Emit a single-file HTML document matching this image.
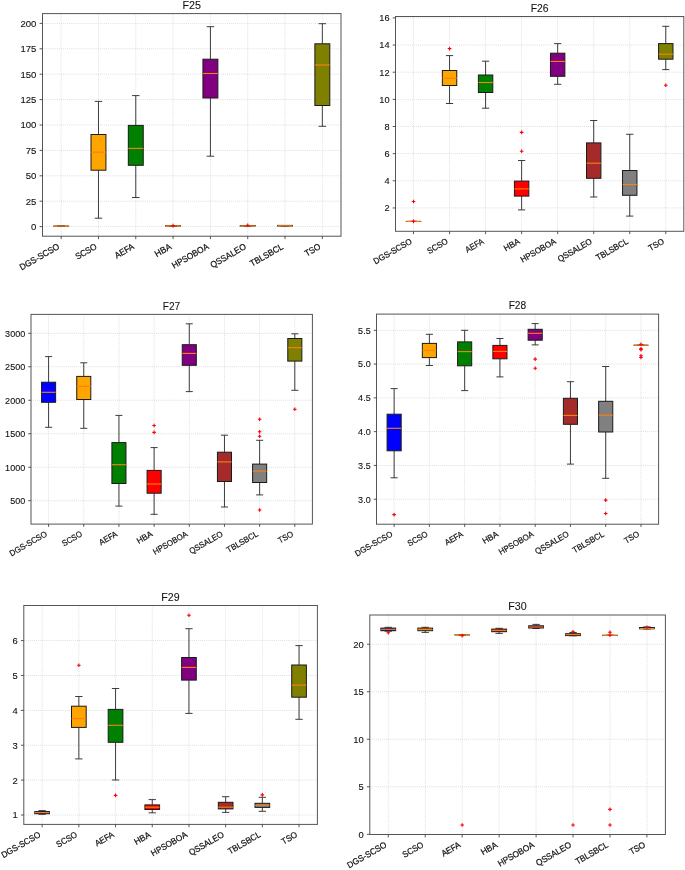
<!DOCTYPE html>
<html><head><meta charset="utf-8"><style>
html,body{margin:0;padding:0;background:#fff;}
svg{display:block;will-change:transform;}
text{font-family:"Liberation Sans",sans-serif;fill:#111;stroke:#111;stroke-width:0.22px;}
.ti{stroke-width:0.08px}
.yl{stroke-width:0.1px}
.gr{stroke:#b0b0b0;stroke-width:0.65;stroke-dasharray:0.9 1.15;opacity:0.7}
.wk{stroke:#333;stroke-width:0.95}
.bx{stroke:#1a1a1a;stroke-width:1}
.md{stroke:#ff7f0e;stroke-width:1.1}
.fl{stroke:#ff0000;stroke-width:1.1;fill:none}
.fr{fill:none;stroke:#555;stroke-width:1}
.tk{stroke:#444;stroke-width:0.9}
</style></head><body>
<svg width="685" height="870" viewBox="0 0 685 870">
<rect width="685" height="870" fill="#fff"/>
<g><line class="gr" x1="61.16" y1="13.6" x2="61.16" y2="236.2"/>
<line class="gr" x1="98.47" y1="13.6" x2="98.47" y2="236.2"/>
<line class="gr" x1="135.78" y1="13.6" x2="135.78" y2="236.2"/>
<line class="gr" x1="173.09" y1="13.6" x2="173.09" y2="236.2"/>
<line class="gr" x1="210.41" y1="13.6" x2="210.41" y2="236.2"/>
<line class="gr" x1="247.72" y1="13.6" x2="247.72" y2="236.2"/>
<line class="gr" x1="285.03" y1="13.6" x2="285.03" y2="236.2"/>
<line class="gr" x1="322.34" y1="13.6" x2="322.34" y2="236.2"/>
<line class="gr" x1="42.5" y1="226.6" x2="341" y2="226.6"/>
<line class="gr" x1="42.5" y1="201.2" x2="341" y2="201.2"/>
<line class="gr" x1="42.5" y1="175.8" x2="341" y2="175.8"/>
<line class="gr" x1="42.5" y1="150.4" x2="341" y2="150.4"/>
<line class="gr" x1="42.5" y1="125" x2="341" y2="125"/>
<line class="gr" x1="42.5" y1="99.6" x2="341" y2="99.6"/>
<line class="gr" x1="42.5" y1="74.2" x2="341" y2="74.2"/>
<line class="gr" x1="42.5" y1="48.8" x2="341" y2="48.8"/>
<line class="gr" x1="42.5" y1="23.4" x2="341" y2="23.4"/>
<line class="wk" x1="61.16" y1="226.1" x2="61.16" y2="226.1"/>
<line class="wk" x1="61.16" y1="226.1" x2="61.16" y2="226.1"/>
<line class="wk" x1="57.42" y1="226.1" x2="64.89" y2="226.1"/>
<line class="wk" x1="57.42" y1="226.1" x2="64.89" y2="226.1"/>
<rect class="bx" x="53.69" y="226.1" width="14.93" height="0.01" fill="#0000ff"/>
<line class="md" x1="53.69" y1="226.1" x2="68.62" y2="226.1"/>
<line class="wk" x1="98.47" y1="170.2" x2="98.47" y2="218.2"/>
<line class="wk" x1="98.47" y1="101.4" x2="98.47" y2="134.5"/>
<line class="wk" x1="94.74" y1="218.2" x2="102.2" y2="218.2"/>
<line class="wk" x1="94.74" y1="101.4" x2="102.2" y2="101.4"/>
<rect class="bx" x="91.01" y="134.5" width="14.93" height="35.7" fill="#ffa500"/>
<line class="md" x1="91.01" y1="152.2" x2="105.93" y2="152.2"/>
<line class="wk" x1="135.78" y1="165.3" x2="135.78" y2="197.5"/>
<line class="wk" x1="135.78" y1="95.6" x2="135.78" y2="125.4"/>
<line class="wk" x1="132.05" y1="197.5" x2="139.51" y2="197.5"/>
<line class="wk" x1="132.05" y1="95.6" x2="139.51" y2="95.6"/>
<rect class="bx" x="128.32" y="125.4" width="14.93" height="39.9" fill="#008000"/>
<line class="md" x1="128.32" y1="148.4" x2="143.24" y2="148.4"/>
<line class="wk" x1="173.09" y1="226" x2="173.09" y2="226"/>
<line class="wk" x1="173.09" y1="225.8" x2="173.09" y2="225.6"/>
<line class="wk" x1="169.36" y1="226" x2="176.82" y2="226"/>
<line class="wk" x1="169.36" y1="225.8" x2="176.82" y2="225.8"/>
<rect class="bx" x="165.63" y="225.6" width="14.93" height="0.4" fill="#ff0000"/>
<line class="md" x1="165.63" y1="225.8" x2="180.56" y2="225.8"/>
<path class="fl" d="M171.29 225.6h3.6M173.09 223.8v3.6"/>
<line class="wk" x1="210.41" y1="98" x2="210.41" y2="156.2"/>
<line class="wk" x1="210.41" y1="26.7" x2="210.41" y2="59.2"/>
<line class="wk" x1="206.68" y1="156.2" x2="214.14" y2="156.2"/>
<line class="wk" x1="206.68" y1="26.7" x2="214.14" y2="26.7"/>
<rect class="bx" x="202.94" y="59.2" width="14.93" height="38.8" fill="#800080"/>
<line class="md" x1="202.94" y1="73.5" x2="217.87" y2="73.5"/>
<line class="wk" x1="247.72" y1="226" x2="247.72" y2="226"/>
<line class="wk" x1="247.72" y1="225.6" x2="247.72" y2="225.5"/>
<line class="wk" x1="243.99" y1="226" x2="251.45" y2="226"/>
<line class="wk" x1="243.99" y1="225.6" x2="251.45" y2="225.6"/>
<rect class="bx" x="240.26" y="225.5" width="14.93" height="0.5" fill="#a52a2a"/>
<line class="md" x1="240.26" y1="225.8" x2="255.18" y2="225.8"/>
<path class="fl" d="M245.92 225.2h3.6M247.72 223.4v3.6"/>
<line class="wk" x1="285.03" y1="226" x2="285.03" y2="226"/>
<line class="wk" x1="285.03" y1="225.5" x2="285.03" y2="225.4"/>
<line class="wk" x1="281.3" y1="226" x2="288.76" y2="226"/>
<line class="wk" x1="281.3" y1="225.5" x2="288.76" y2="225.5"/>
<rect class="bx" x="277.57" y="225.4" width="14.93" height="0.6" fill="#808080"/>
<line class="md" x1="277.57" y1="225.7" x2="292.49" y2="225.7"/>
<line class="wk" x1="322.34" y1="105.5" x2="322.34" y2="126.3"/>
<line class="wk" x1="322.34" y1="23.7" x2="322.34" y2="43.8"/>
<line class="wk" x1="318.61" y1="126.3" x2="326.07" y2="126.3"/>
<line class="wk" x1="318.61" y1="23.7" x2="326.07" y2="23.7"/>
<rect class="bx" x="314.88" y="43.8" width="14.93" height="61.7" fill="#808000"/>
<line class="md" x1="314.88" y1="65" x2="329.81" y2="65"/>
<rect class="fr" x="42.5" y="13.6" width="298.5" height="222.6"/>
<line class="tk" x1="61.16" y1="236.2" x2="61.16" y2="239.12"/>
<line class="tk" x1="98.47" y1="236.2" x2="98.47" y2="239.12"/>
<line class="tk" x1="135.78" y1="236.2" x2="135.78" y2="239.12"/>
<line class="tk" x1="173.09" y1="236.2" x2="173.09" y2="239.12"/>
<line class="tk" x1="210.41" y1="236.2" x2="210.41" y2="239.12"/>
<line class="tk" x1="247.72" y1="236.2" x2="247.72" y2="239.12"/>
<line class="tk" x1="285.03" y1="236.2" x2="285.03" y2="239.12"/>
<line class="tk" x1="322.34" y1="236.2" x2="322.34" y2="239.12"/>
<line class="tk" x1="39.58" y1="226.6" x2="42.5" y2="226.6"/>
<line class="tk" x1="39.58" y1="201.2" x2="42.5" y2="201.2"/>
<line class="tk" x1="39.58" y1="175.8" x2="42.5" y2="175.8"/>
<line class="tk" x1="39.58" y1="150.4" x2="42.5" y2="150.4"/>
<line class="tk" x1="39.58" y1="125" x2="42.5" y2="125"/>
<line class="tk" x1="39.58" y1="99.6" x2="42.5" y2="99.6"/>
<line class="tk" x1="39.58" y1="74.2" x2="42.5" y2="74.2"/>
<line class="tk" x1="39.58" y1="48.8" x2="42.5" y2="48.8"/>
<line class="tk" x1="39.58" y1="23.4" x2="42.5" y2="23.4"/>
<text x="36.35" y="230.08" font-size="8.86" text-anchor="end" textLength="5.32" lengthAdjust="spacingAndGlyphs" class="yl">0</text>
<text x="36.35" y="204.68" font-size="8.86" text-anchor="end" textLength="10.64" lengthAdjust="spacingAndGlyphs" class="yl">25</text>
<text x="36.35" y="179.28" font-size="8.86" text-anchor="end" textLength="10.64" lengthAdjust="spacingAndGlyphs" class="yl">50</text>
<text x="36.35" y="153.88" font-size="8.86" text-anchor="end" textLength="10.64" lengthAdjust="spacingAndGlyphs" class="yl">75</text>
<text x="36.35" y="128.48" font-size="8.86" text-anchor="end" textLength="15.95" lengthAdjust="spacingAndGlyphs" class="yl">100</text>
<text x="36.35" y="103.08" font-size="8.86" text-anchor="end" textLength="15.95" lengthAdjust="spacingAndGlyphs" class="yl">125</text>
<text x="36.35" y="77.68" font-size="8.86" text-anchor="end" textLength="15.95" lengthAdjust="spacingAndGlyphs" class="yl">150</text>
<text x="36.35" y="52.28" font-size="8.86" text-anchor="end" textLength="15.95" lengthAdjust="spacingAndGlyphs" class="yl">175</text>
<text x="36.35" y="26.88" font-size="8.86" text-anchor="end" textLength="15.95" lengthAdjust="spacingAndGlyphs" class="yl">200</text>
<text transform="translate(60.17 248.35) rotate(-30)" font-size="8.86" text-anchor="end" textLength="44.26" lengthAdjust="spacingAndGlyphs">DGS-SCSO</text>
<text transform="translate(97.48 248.35) rotate(-30)" font-size="8.86" text-anchor="end" textLength="23.03" lengthAdjust="spacingAndGlyphs">SCSO</text>
<text transform="translate(134.79 248.35) rotate(-30)" font-size="8.86" text-anchor="end" textLength="20.76" lengthAdjust="spacingAndGlyphs">AEFA</text>
<text transform="translate(172.11 248.35) rotate(-30)" font-size="8.86" text-anchor="end" textLength="17.74" lengthAdjust="spacingAndGlyphs">HBA</text>
<text transform="translate(209.42 248.35) rotate(-30)" font-size="8.86" text-anchor="end" textLength="40.95" lengthAdjust="spacingAndGlyphs">HPSOBOA</text>
<text transform="translate(246.73 248.35) rotate(-30)" font-size="8.86" text-anchor="end" textLength="39.58" lengthAdjust="spacingAndGlyphs">QSSALEO</text>
<text transform="translate(284.04 248.35) rotate(-30)" font-size="8.86" text-anchor="end" textLength="36.88" lengthAdjust="spacingAndGlyphs">TBLSBCL</text>
<text transform="translate(321.36 248.35) rotate(-30)" font-size="8.86" text-anchor="end" textLength="16.99" lengthAdjust="spacingAndGlyphs">TSO</text>
<text x="191.7" y="8.9" font-size="10.63" text-anchor="middle" textLength="18.53" lengthAdjust="spacingAndGlyphs" class="ti">F25</text></g>
<g><line class="gr" x1="413.52" y1="16.5" x2="413.52" y2="231.3"/>
<line class="gr" x1="449.56" y1="16.5" x2="449.56" y2="231.3"/>
<line class="gr" x1="485.59" y1="16.5" x2="485.59" y2="231.3"/>
<line class="gr" x1="521.63" y1="16.5" x2="521.63" y2="231.3"/>
<line class="gr" x1="557.67" y1="16.5" x2="557.67" y2="231.3"/>
<line class="gr" x1="593.71" y1="16.5" x2="593.71" y2="231.3"/>
<line class="gr" x1="629.74" y1="16.5" x2="629.74" y2="231.3"/>
<line class="gr" x1="665.78" y1="16.5" x2="665.78" y2="231.3"/>
<line class="gr" x1="395.5" y1="17.9" x2="683.8" y2="17.9"/>
<line class="gr" x1="395.5" y1="45.05" x2="683.8" y2="45.05"/>
<line class="gr" x1="395.5" y1="72.2" x2="683.8" y2="72.2"/>
<line class="gr" x1="395.5" y1="99.35" x2="683.8" y2="99.35"/>
<line class="gr" x1="395.5" y1="126.5" x2="683.8" y2="126.5"/>
<line class="gr" x1="395.5" y1="153.65" x2="683.8" y2="153.65"/>
<line class="gr" x1="395.5" y1="180.8" x2="683.8" y2="180.8"/>
<line class="gr" x1="395.5" y1="207.95" x2="683.8" y2="207.95"/>
<line class="wk" x1="413.52" y1="221.4" x2="413.52" y2="221.4"/>
<line class="wk" x1="413.52" y1="221.4" x2="413.52" y2="221.4"/>
<line class="wk" x1="409.92" y1="221.4" x2="417.12" y2="221.4"/>
<line class="wk" x1="409.92" y1="221.4" x2="417.12" y2="221.4"/>
<rect class="bx" x="406.31" y="221.4" width="14.41" height="0.01" fill="#0000ff"/>
<line class="md" x1="406.31" y1="221.4" x2="420.73" y2="221.4"/>
<path class="fl" d="M411.72 201.5h3.6M413.52 199.7v3.6"/>
<path class="fl" d="M411.72 221.4h3.6M413.52 219.6v3.6"/>
<line class="wk" x1="449.56" y1="85.5" x2="449.56" y2="103.5"/>
<line class="wk" x1="449.56" y1="55.6" x2="449.56" y2="70.5"/>
<line class="wk" x1="445.95" y1="103.5" x2="453.16" y2="103.5"/>
<line class="wk" x1="445.95" y1="55.6" x2="453.16" y2="55.6"/>
<rect class="bx" x="442.35" y="70.5" width="14.41" height="15" fill="#ffa500"/>
<line class="md" x1="442.35" y1="78.3" x2="456.76" y2="78.3"/>
<path class="fl" d="M447.76 48.6h3.6M449.56 46.8v3.6"/>
<line class="wk" x1="485.59" y1="92.5" x2="485.59" y2="108.2"/>
<line class="wk" x1="485.59" y1="61.2" x2="485.59" y2="75"/>
<line class="wk" x1="481.99" y1="108.2" x2="489.2" y2="108.2"/>
<line class="wk" x1="481.99" y1="61.2" x2="489.2" y2="61.2"/>
<rect class="bx" x="478.39" y="75" width="14.41" height="17.5" fill="#008000"/>
<line class="md" x1="478.39" y1="82.5" x2="492.8" y2="82.5"/>
<line class="wk" x1="521.63" y1="196.1" x2="521.63" y2="209.9"/>
<line class="wk" x1="521.63" y1="160.5" x2="521.63" y2="181.1"/>
<line class="wk" x1="518.03" y1="209.9" x2="525.24" y2="209.9"/>
<line class="wk" x1="518.03" y1="160.5" x2="525.24" y2="160.5"/>
<rect class="bx" x="514.42" y="181.1" width="14.41" height="15" fill="#ff0000"/>
<line class="md" x1="514.42" y1="188.9" x2="528.84" y2="188.9"/>
<path class="fl" d="M519.83 132.4h3.6M521.63 130.6v3.6"/>
<path class="fl" d="M519.83 151.3h3.6M521.63 149.5v3.6"/>
<line class="wk" x1="557.67" y1="76.3" x2="557.67" y2="84.3"/>
<line class="wk" x1="557.67" y1="43.6" x2="557.67" y2="53.2"/>
<line class="wk" x1="554.07" y1="84.3" x2="561.27" y2="84.3"/>
<line class="wk" x1="554.07" y1="43.6" x2="561.27" y2="43.6"/>
<rect class="bx" x="550.46" y="53.2" width="14.41" height="23.1" fill="#800080"/>
<line class="md" x1="550.46" y1="61.4" x2="564.88" y2="61.4"/>
<line class="wk" x1="593.71" y1="178.3" x2="593.71" y2="197"/>
<line class="wk" x1="593.71" y1="120.5" x2="593.71" y2="142.9"/>
<line class="wk" x1="590.1" y1="197" x2="597.31" y2="197"/>
<line class="wk" x1="590.1" y1="120.5" x2="597.31" y2="120.5"/>
<rect class="bx" x="586.5" y="142.9" width="14.41" height="35.4" fill="#a52a2a"/>
<line class="md" x1="586.5" y1="163.2" x2="600.91" y2="163.2"/>
<line class="wk" x1="629.74" y1="195.3" x2="629.74" y2="216.1"/>
<line class="wk" x1="629.74" y1="134.3" x2="629.74" y2="170.5"/>
<line class="wk" x1="626.14" y1="216.1" x2="633.35" y2="216.1"/>
<line class="wk" x1="626.14" y1="134.3" x2="633.35" y2="134.3"/>
<rect class="bx" x="622.54" y="170.5" width="14.41" height="24.8" fill="#808080"/>
<line class="md" x1="622.54" y1="184.5" x2="636.95" y2="184.5"/>
<line class="wk" x1="665.78" y1="59.2" x2="665.78" y2="69.6"/>
<line class="wk" x1="665.78" y1="26.3" x2="665.78" y2="43.6"/>
<line class="wk" x1="662.18" y1="69.6" x2="669.38" y2="69.6"/>
<line class="wk" x1="662.18" y1="26.3" x2="669.38" y2="26.3"/>
<rect class="bx" x="658.57" y="43.6" width="14.41" height="15.6" fill="#808000"/>
<line class="md" x1="658.57" y1="54.2" x2="672.99" y2="54.2"/>
<path class="fl" d="M663.98 85.3h3.6M665.78 83.5v3.6"/>
<rect class="fr" x="395.5" y="16.5" width="288.3" height="214.8"/>
<line class="tk" x1="413.52" y1="231.3" x2="413.52" y2="234.12"/>
<line class="tk" x1="449.56" y1="231.3" x2="449.56" y2="234.12"/>
<line class="tk" x1="485.59" y1="231.3" x2="485.59" y2="234.12"/>
<line class="tk" x1="521.63" y1="231.3" x2="521.63" y2="234.12"/>
<line class="tk" x1="557.67" y1="231.3" x2="557.67" y2="234.12"/>
<line class="tk" x1="593.71" y1="231.3" x2="593.71" y2="234.12"/>
<line class="tk" x1="629.74" y1="231.3" x2="629.74" y2="234.12"/>
<line class="tk" x1="665.78" y1="231.3" x2="665.78" y2="234.12"/>
<line class="tk" x1="392.68" y1="17.9" x2="395.5" y2="17.9"/>
<line class="tk" x1="392.68" y1="45.05" x2="395.5" y2="45.05"/>
<line class="tk" x1="392.68" y1="72.2" x2="395.5" y2="72.2"/>
<line class="tk" x1="392.68" y1="99.35" x2="395.5" y2="99.35"/>
<line class="tk" x1="392.68" y1="126.5" x2="395.5" y2="126.5"/>
<line class="tk" x1="392.68" y1="153.65" x2="395.5" y2="153.65"/>
<line class="tk" x1="392.68" y1="180.8" x2="395.5" y2="180.8"/>
<line class="tk" x1="392.68" y1="207.95" x2="395.5" y2="207.95"/>
<text x="389.55" y="21.27" font-size="8.56" text-anchor="end" textLength="10.27" lengthAdjust="spacingAndGlyphs" class="yl">16</text>
<text x="389.55" y="48.42" font-size="8.56" text-anchor="end" textLength="10.27" lengthAdjust="spacingAndGlyphs" class="yl">14</text>
<text x="389.55" y="75.57" font-size="8.56" text-anchor="end" textLength="10.27" lengthAdjust="spacingAndGlyphs" class="yl">12</text>
<text x="389.55" y="102.72" font-size="8.56" text-anchor="end" textLength="10.27" lengthAdjust="spacingAndGlyphs" class="yl">10</text>
<text x="389.55" y="129.87" font-size="8.56" text-anchor="end" textLength="5.14" lengthAdjust="spacingAndGlyphs" class="yl">8</text>
<text x="389.55" y="157.02" font-size="8.56" text-anchor="end" textLength="5.14" lengthAdjust="spacingAndGlyphs" class="yl">6</text>
<text x="389.55" y="184.17" font-size="8.56" text-anchor="end" textLength="5.14" lengthAdjust="spacingAndGlyphs" class="yl">4</text>
<text x="389.55" y="211.32" font-size="8.56" text-anchor="end" textLength="5.14" lengthAdjust="spacingAndGlyphs" class="yl">2</text>
<text transform="translate(412.57 243.06) rotate(-30)" font-size="8.56" text-anchor="end" textLength="42.75" lengthAdjust="spacingAndGlyphs">DGS-SCSO</text>
<text transform="translate(448.6 243.06) rotate(-30)" font-size="8.56" text-anchor="end" textLength="22.24" lengthAdjust="spacingAndGlyphs">SCSO</text>
<text transform="translate(484.64 243.06) rotate(-30)" font-size="8.56" text-anchor="end" textLength="20.05" lengthAdjust="spacingAndGlyphs">AEFA</text>
<text transform="translate(520.68 243.06) rotate(-30)" font-size="8.56" text-anchor="end" textLength="17.13" lengthAdjust="spacingAndGlyphs">HBA</text>
<text transform="translate(556.72 243.06) rotate(-30)" font-size="8.56" text-anchor="end" textLength="39.55" lengthAdjust="spacingAndGlyphs">HPSOBOA</text>
<text transform="translate(592.75 243.06) rotate(-30)" font-size="8.56" text-anchor="end" textLength="38.23" lengthAdjust="spacingAndGlyphs">QSSALEO</text>
<text transform="translate(628.79 243.06) rotate(-30)" font-size="8.56" text-anchor="end" textLength="35.62" lengthAdjust="spacingAndGlyphs">TBLSBCL</text>
<text transform="translate(664.83 243.06) rotate(-30)" font-size="8.56" text-anchor="end" textLength="16.41" lengthAdjust="spacingAndGlyphs">TSO</text>
<text x="539.6" y="11.6" font-size="10.27" text-anchor="middle" textLength="17.9" lengthAdjust="spacingAndGlyphs" class="ti">F26</text></g>
<g><line class="gr" x1="48.59" y1="314.4" x2="48.59" y2="524.1"/>
<line class="gr" x1="83.76" y1="314.4" x2="83.76" y2="524.1"/>
<line class="gr" x1="118.94" y1="314.4" x2="118.94" y2="524.1"/>
<line class="gr" x1="154.11" y1="314.4" x2="154.11" y2="524.1"/>
<line class="gr" x1="189.29" y1="314.4" x2="189.29" y2="524.1"/>
<line class="gr" x1="224.46" y1="314.4" x2="224.46" y2="524.1"/>
<line class="gr" x1="259.64" y1="314.4" x2="259.64" y2="524.1"/>
<line class="gr" x1="294.81" y1="314.4" x2="294.81" y2="524.1"/>
<line class="gr" x1="31" y1="500.7" x2="312.4" y2="500.7"/>
<line class="gr" x1="31" y1="467.22" x2="312.4" y2="467.22"/>
<line class="gr" x1="31" y1="433.74" x2="312.4" y2="433.74"/>
<line class="gr" x1="31" y1="400.26" x2="312.4" y2="400.26"/>
<line class="gr" x1="31" y1="366.78" x2="312.4" y2="366.78"/>
<line class="gr" x1="31" y1="333.3" x2="312.4" y2="333.3"/>
<line class="wk" x1="48.59" y1="402.3" x2="48.59" y2="427.3"/>
<line class="wk" x1="48.59" y1="356.6" x2="48.59" y2="382.2"/>
<line class="wk" x1="45.07" y1="427.3" x2="52.1" y2="427.3"/>
<line class="wk" x1="45.07" y1="356.6" x2="52.1" y2="356.6"/>
<rect class="bx" x="41.55" y="382.2" width="14.07" height="20.1" fill="#0000ff"/>
<line class="md" x1="41.55" y1="392.3" x2="55.62" y2="392.3"/>
<line class="wk" x1="83.76" y1="399.5" x2="83.76" y2="428.3"/>
<line class="wk" x1="83.76" y1="362.8" x2="83.76" y2="376.4"/>
<line class="wk" x1="80.24" y1="428.3" x2="87.28" y2="428.3"/>
<line class="wk" x1="80.24" y1="362.8" x2="87.28" y2="362.8"/>
<rect class="bx" x="76.73" y="376.4" width="14.07" height="23.1" fill="#ffa500"/>
<line class="md" x1="76.73" y1="386.4" x2="90.8" y2="386.4"/>
<line class="wk" x1="118.94" y1="483.5" x2="118.94" y2="506.1"/>
<line class="wk" x1="118.94" y1="415.4" x2="118.94" y2="442.6"/>
<line class="wk" x1="115.42" y1="506.1" x2="122.45" y2="506.1"/>
<line class="wk" x1="115.42" y1="415.4" x2="122.45" y2="415.4"/>
<rect class="bx" x="111.9" y="442.6" width="14.07" height="40.9" fill="#008000"/>
<line class="md" x1="111.9" y1="464.7" x2="125.97" y2="464.7"/>
<line class="wk" x1="154.11" y1="493.2" x2="154.11" y2="514.3"/>
<line class="wk" x1="154.11" y1="447.6" x2="154.11" y2="470.4"/>
<line class="wk" x1="150.59" y1="514.3" x2="157.63" y2="514.3"/>
<line class="wk" x1="150.59" y1="447.6" x2="157.63" y2="447.6"/>
<rect class="bx" x="147.08" y="470.4" width="14.07" height="22.8" fill="#ff0000"/>
<line class="md" x1="147.08" y1="484" x2="161.15" y2="484"/>
<path class="fl" d="M152.31 425.5h3.6M154.11 423.7v3.6"/>
<path class="fl" d="M152.31 432.4h3.6M154.11 430.6v3.6"/>
<line class="wk" x1="189.29" y1="365.3" x2="189.29" y2="391.6"/>
<line class="wk" x1="189.29" y1="323.8" x2="189.29" y2="344.7"/>
<line class="wk" x1="185.77" y1="391.6" x2="192.81" y2="391.6"/>
<line class="wk" x1="185.77" y1="323.8" x2="192.81" y2="323.8"/>
<rect class="bx" x="182.25" y="344.7" width="14.07" height="20.6" fill="#800080"/>
<line class="md" x1="182.25" y1="353.4" x2="196.32" y2="353.4"/>
<line class="wk" x1="224.46" y1="481.5" x2="224.46" y2="507"/>
<line class="wk" x1="224.46" y1="435.2" x2="224.46" y2="452.2"/>
<line class="wk" x1="220.94" y1="507" x2="227.98" y2="507"/>
<line class="wk" x1="220.94" y1="435.2" x2="227.98" y2="435.2"/>
<rect class="bx" x="217.43" y="452.2" width="14.07" height="29.3" fill="#a52a2a"/>
<line class="md" x1="217.43" y1="461.9" x2="231.5" y2="461.9"/>
<line class="wk" x1="259.64" y1="482.5" x2="259.64" y2="494.9"/>
<line class="wk" x1="259.64" y1="440.3" x2="259.64" y2="464.1"/>
<line class="wk" x1="256.12" y1="494.9" x2="263.15" y2="494.9"/>
<line class="wk" x1="256.12" y1="440.3" x2="263.15" y2="440.3"/>
<rect class="bx" x="252.6" y="464.1" width="14.07" height="18.4" fill="#808080"/>
<line class="md" x1="252.6" y1="471.1" x2="266.67" y2="471.1"/>
<path class="fl" d="M257.84 419.2h3.6M259.64 417.4v3.6"/>
<path class="fl" d="M257.84 431.8h3.6M259.64 430v3.6"/>
<path class="fl" d="M257.84 436.3h3.6M259.64 434.5v3.6"/>
<path class="fl" d="M257.84 510h3.6M259.64 508.2v3.6"/>
<line class="wk" x1="294.81" y1="361.1" x2="294.81" y2="390.3"/>
<line class="wk" x1="294.81" y1="333.8" x2="294.81" y2="338.5"/>
<line class="wk" x1="291.3" y1="390.3" x2="298.33" y2="390.3"/>
<line class="wk" x1="291.3" y1="333.8" x2="298.33" y2="333.8"/>
<rect class="bx" x="287.78" y="338.5" width="14.07" height="22.6" fill="#808000"/>
<line class="md" x1="287.78" y1="347.7" x2="301.85" y2="347.7"/>
<path class="fl" d="M293.01 409.2h3.6M294.81 407.4v3.6"/>
<rect class="fr" x="31" y="314.4" width="281.4" height="209.7"/>
<line class="tk" x1="48.59" y1="524.1" x2="48.59" y2="526.86"/>
<line class="tk" x1="83.76" y1="524.1" x2="83.76" y2="526.86"/>
<line class="tk" x1="118.94" y1="524.1" x2="118.94" y2="526.86"/>
<line class="tk" x1="154.11" y1="524.1" x2="154.11" y2="526.86"/>
<line class="tk" x1="189.29" y1="524.1" x2="189.29" y2="526.86"/>
<line class="tk" x1="224.46" y1="524.1" x2="224.46" y2="526.86"/>
<line class="tk" x1="259.64" y1="524.1" x2="259.64" y2="526.86"/>
<line class="tk" x1="294.81" y1="524.1" x2="294.81" y2="526.86"/>
<line class="tk" x1="28.24" y1="500.7" x2="31" y2="500.7"/>
<line class="tk" x1="28.24" y1="467.22" x2="31" y2="467.22"/>
<line class="tk" x1="28.24" y1="433.74" x2="31" y2="433.74"/>
<line class="tk" x1="28.24" y1="400.26" x2="31" y2="400.26"/>
<line class="tk" x1="28.24" y1="366.78" x2="31" y2="366.78"/>
<line class="tk" x1="28.24" y1="333.3" x2="31" y2="333.3"/>
<text x="25.19" y="503.99" font-size="8.35" text-anchor="end" textLength="15.04" lengthAdjust="spacingAndGlyphs" class="yl">500</text>
<text x="25.19" y="470.51" font-size="8.35" text-anchor="end" textLength="20.05" lengthAdjust="spacingAndGlyphs" class="yl">1000</text>
<text x="25.19" y="437.03" font-size="8.35" text-anchor="end" textLength="20.05" lengthAdjust="spacingAndGlyphs" class="yl">1500</text>
<text x="25.19" y="403.55" font-size="8.35" text-anchor="end" textLength="20.05" lengthAdjust="spacingAndGlyphs" class="yl">2000</text>
<text x="25.19" y="370.07" font-size="8.35" text-anchor="end" textLength="20.05" lengthAdjust="spacingAndGlyphs" class="yl">2500</text>
<text x="25.19" y="336.59" font-size="8.35" text-anchor="end" textLength="20.05" lengthAdjust="spacingAndGlyphs" class="yl">3000</text>
<text transform="translate(47.66 535.6) rotate(-30)" font-size="8.35" text-anchor="end" textLength="41.73" lengthAdjust="spacingAndGlyphs">DGS-SCSO</text>
<text transform="translate(82.83 535.6) rotate(-30)" font-size="8.35" text-anchor="end" textLength="21.71" lengthAdjust="spacingAndGlyphs">SCSO</text>
<text transform="translate(118.01 535.6) rotate(-30)" font-size="8.35" text-anchor="end" textLength="19.57" lengthAdjust="spacingAndGlyphs">AEFA</text>
<text transform="translate(153.18 535.6) rotate(-30)" font-size="8.35" text-anchor="end" textLength="16.72" lengthAdjust="spacingAndGlyphs">HBA</text>
<text transform="translate(188.36 535.6) rotate(-30)" font-size="8.35" text-anchor="end" textLength="38.6" lengthAdjust="spacingAndGlyphs">HPSOBOA</text>
<text transform="translate(223.53 535.6) rotate(-30)" font-size="8.35" text-anchor="end" textLength="37.31" lengthAdjust="spacingAndGlyphs">QSSALEO</text>
<text transform="translate(258.71 535.6) rotate(-30)" font-size="8.35" text-anchor="end" textLength="34.77" lengthAdjust="spacingAndGlyphs">TBLSBCL</text>
<text transform="translate(293.88 535.6) rotate(-30)" font-size="8.35" text-anchor="end" textLength="16.02" lengthAdjust="spacingAndGlyphs">TSO</text>
<text x="171.5" y="309.9" font-size="10.02" text-anchor="middle" textLength="17.47" lengthAdjust="spacingAndGlyphs" class="ti">F27</text></g>
<g><line class="gr" x1="394.13" y1="314.1" x2="394.13" y2="524.2"/>
<line class="gr" x1="429.39" y1="314.1" x2="429.39" y2="524.2"/>
<line class="gr" x1="464.66" y1="314.1" x2="464.66" y2="524.2"/>
<line class="gr" x1="499.92" y1="314.1" x2="499.92" y2="524.2"/>
<line class="gr" x1="535.18" y1="314.1" x2="535.18" y2="524.2"/>
<line class="gr" x1="570.44" y1="314.1" x2="570.44" y2="524.2"/>
<line class="gr" x1="605.71" y1="314.1" x2="605.71" y2="524.2"/>
<line class="gr" x1="640.97" y1="314.1" x2="640.97" y2="524.2"/>
<line class="gr" x1="376.5" y1="330.3" x2="658.6" y2="330.3"/>
<line class="gr" x1="376.5" y1="364.08" x2="658.6" y2="364.08"/>
<line class="gr" x1="376.5" y1="397.86" x2="658.6" y2="397.86"/>
<line class="gr" x1="376.5" y1="431.64" x2="658.6" y2="431.64"/>
<line class="gr" x1="376.5" y1="465.42" x2="658.6" y2="465.42"/>
<line class="gr" x1="376.5" y1="499.2" x2="658.6" y2="499.2"/>
<line class="wk" x1="394.13" y1="450.8" x2="394.13" y2="477.8"/>
<line class="wk" x1="394.13" y1="388.6" x2="394.13" y2="414.2"/>
<line class="wk" x1="390.61" y1="477.8" x2="397.66" y2="477.8"/>
<line class="wk" x1="390.61" y1="388.6" x2="397.66" y2="388.6"/>
<rect class="bx" x="387.08" y="414.2" width="14.11" height="36.6" fill="#0000ff"/>
<line class="md" x1="387.08" y1="428.3" x2="401.18" y2="428.3"/>
<path class="fl" d="M392.33 514.6h3.6M394.13 512.8v3.6"/>
<line class="wk" x1="429.39" y1="357.6" x2="429.39" y2="365.5"/>
<line class="wk" x1="429.39" y1="334.3" x2="429.39" y2="343.4"/>
<line class="wk" x1="425.87" y1="365.5" x2="432.92" y2="365.5"/>
<line class="wk" x1="425.87" y1="334.3" x2="432.92" y2="334.3"/>
<rect class="bx" x="422.34" y="343.4" width="14.11" height="14.2" fill="#ffa500"/>
<line class="md" x1="422.34" y1="350.4" x2="436.45" y2="350.4"/>
<line class="wk" x1="464.66" y1="365.8" x2="464.66" y2="390.6"/>
<line class="wk" x1="464.66" y1="330.3" x2="464.66" y2="341.9"/>
<line class="wk" x1="461.13" y1="390.6" x2="468.18" y2="390.6"/>
<line class="wk" x1="461.13" y1="330.3" x2="468.18" y2="330.3"/>
<rect class="bx" x="457.6" y="341.9" width="14.11" height="23.9" fill="#008000"/>
<line class="md" x1="457.6" y1="351.6" x2="471.71" y2="351.6"/>
<line class="wk" x1="499.92" y1="358.8" x2="499.92" y2="376.9"/>
<line class="wk" x1="499.92" y1="338.5" x2="499.92" y2="345.4"/>
<line class="wk" x1="496.39" y1="376.9" x2="503.45" y2="376.9"/>
<line class="wk" x1="496.39" y1="338.5" x2="503.45" y2="338.5"/>
<rect class="bx" x="492.87" y="345.4" width="14.11" height="13.4" fill="#ff0000"/>
<line class="md" x1="492.87" y1="351.4" x2="506.97" y2="351.4"/>
<line class="wk" x1="535.18" y1="340.2" x2="535.18" y2="344.9"/>
<line class="wk" x1="535.18" y1="323.6" x2="535.18" y2="329.3"/>
<line class="wk" x1="531.65" y1="344.9" x2="538.71" y2="344.9"/>
<line class="wk" x1="531.65" y1="323.6" x2="538.71" y2="323.6"/>
<rect class="bx" x="528.13" y="329.3" width="14.11" height="10.9" fill="#800080"/>
<line class="md" x1="528.13" y1="333.3" x2="542.23" y2="333.3"/>
<path class="fl" d="M533.38 359.1h3.6M535.18 357.3v3.6"/>
<path class="fl" d="M533.38 368.3h3.6M535.18 366.5v3.6"/>
<line class="wk" x1="570.44" y1="424.3" x2="570.44" y2="464.1"/>
<line class="wk" x1="570.44" y1="381.7" x2="570.44" y2="398.3"/>
<line class="wk" x1="566.92" y1="464.1" x2="573.97" y2="464.1"/>
<line class="wk" x1="566.92" y1="381.7" x2="573.97" y2="381.7"/>
<rect class="bx" x="563.39" y="398.3" width="14.11" height="26" fill="#a52a2a"/>
<line class="md" x1="563.39" y1="415.4" x2="577.5" y2="415.4"/>
<line class="wk" x1="605.71" y1="432" x2="605.71" y2="478.3"/>
<line class="wk" x1="605.71" y1="366.5" x2="605.71" y2="401.3"/>
<line class="wk" x1="602.18" y1="478.3" x2="609.23" y2="478.3"/>
<line class="wk" x1="602.18" y1="366.5" x2="609.23" y2="366.5"/>
<rect class="bx" x="598.65" y="401.3" width="14.11" height="30.7" fill="#808080"/>
<line class="md" x1="598.65" y1="415.2" x2="612.76" y2="415.2"/>
<path class="fl" d="M603.91 500.1h3.6M605.71 498.3v3.6"/>
<path class="fl" d="M603.91 513.5h3.6M605.71 511.7v3.6"/>
<line class="wk" x1="640.97" y1="345.2" x2="640.97" y2="345.2"/>
<line class="wk" x1="640.97" y1="345.2" x2="640.97" y2="345.2"/>
<line class="wk" x1="637.44" y1="345.2" x2="644.5" y2="345.2"/>
<line class="wk" x1="637.44" y1="345.2" x2="644.5" y2="345.2"/>
<rect class="bx" x="633.92" y="345.2" width="14.11" height="0.01" fill="#808000"/>
<line class="md" x1="633.92" y1="345.2" x2="648.02" y2="345.2"/>
<path class="fl" d="M639.17 344.3h3.6M640.97 342.5v3.6"/>
<path class="fl" d="M639.17 348.7h3.6M640.97 346.9v3.6"/>
<path class="fl" d="M639.17 349.6h3.6M640.97 347.8v3.6"/>
<path class="fl" d="M639.17 355.7h3.6M640.97 353.9v3.6"/>
<path class="fl" d="M639.17 357.5h3.6M640.97 355.7v3.6"/>
<rect class="fr" x="376.5" y="314.1" width="282.1" height="210.1"/>
<line class="tk" x1="394.13" y1="524.2" x2="394.13" y2="526.96"/>
<line class="tk" x1="429.39" y1="524.2" x2="429.39" y2="526.96"/>
<line class="tk" x1="464.66" y1="524.2" x2="464.66" y2="526.96"/>
<line class="tk" x1="499.92" y1="524.2" x2="499.92" y2="526.96"/>
<line class="tk" x1="535.18" y1="524.2" x2="535.18" y2="526.96"/>
<line class="tk" x1="570.44" y1="524.2" x2="570.44" y2="526.96"/>
<line class="tk" x1="605.71" y1="524.2" x2="605.71" y2="526.96"/>
<line class="tk" x1="640.97" y1="524.2" x2="640.97" y2="526.96"/>
<line class="tk" x1="373.74" y1="330.3" x2="376.5" y2="330.3"/>
<line class="tk" x1="373.74" y1="364.08" x2="376.5" y2="364.08"/>
<line class="tk" x1="373.74" y1="397.86" x2="376.5" y2="397.86"/>
<line class="tk" x1="373.74" y1="431.64" x2="376.5" y2="431.64"/>
<line class="tk" x1="373.74" y1="465.42" x2="376.5" y2="465.42"/>
<line class="tk" x1="373.74" y1="499.2" x2="376.5" y2="499.2"/>
<text x="370.67" y="333.6" font-size="8.37" text-anchor="end" textLength="12.56" lengthAdjust="spacingAndGlyphs" class="yl">5.5</text>
<text x="370.67" y="367.38" font-size="8.37" text-anchor="end" textLength="12.56" lengthAdjust="spacingAndGlyphs" class="yl">5.0</text>
<text x="370.67" y="401.16" font-size="8.37" text-anchor="end" textLength="12.56" lengthAdjust="spacingAndGlyphs" class="yl">4.5</text>
<text x="370.67" y="434.94" font-size="8.37" text-anchor="end" textLength="12.56" lengthAdjust="spacingAndGlyphs" class="yl">4.0</text>
<text x="370.67" y="468.72" font-size="8.37" text-anchor="end" textLength="12.56" lengthAdjust="spacingAndGlyphs" class="yl">3.5</text>
<text x="370.67" y="502.5" font-size="8.37" text-anchor="end" textLength="12.56" lengthAdjust="spacingAndGlyphs" class="yl">3.0</text>
<text transform="translate(393.2 535.73) rotate(-30)" font-size="8.37" text-anchor="end" textLength="41.83" lengthAdjust="spacingAndGlyphs">DGS-SCSO</text>
<text transform="translate(428.46 535.73) rotate(-30)" font-size="8.37" text-anchor="end" textLength="21.76" lengthAdjust="spacingAndGlyphs">SCSO</text>
<text transform="translate(463.72 535.73) rotate(-30)" font-size="8.37" text-anchor="end" textLength="19.62" lengthAdjust="spacingAndGlyphs">AEFA</text>
<text transform="translate(498.99 535.73) rotate(-30)" font-size="8.37" text-anchor="end" textLength="16.76" lengthAdjust="spacingAndGlyphs">HBA</text>
<text transform="translate(534.25 535.73) rotate(-30)" font-size="8.37" text-anchor="end" textLength="38.7" lengthAdjust="spacingAndGlyphs">HPSOBOA</text>
<text transform="translate(569.51 535.73) rotate(-30)" font-size="8.37" text-anchor="end" textLength="37.41" lengthAdjust="spacingAndGlyphs">QSSALEO</text>
<text transform="translate(604.77 535.73) rotate(-30)" font-size="8.37" text-anchor="end" textLength="34.86" lengthAdjust="spacingAndGlyphs">TBLSBCL</text>
<text transform="translate(640.04 535.73) rotate(-30)" font-size="8.37" text-anchor="end" textLength="16.06" lengthAdjust="spacingAndGlyphs">TSO</text>
<text x="517.4" y="309.4" font-size="10.05" text-anchor="middle" textLength="17.51" lengthAdjust="spacingAndGlyphs" class="ti">F28</text></g>
<g><line class="gr" x1="42.15" y1="605.5" x2="42.15" y2="824.4"/>
<line class="gr" x1="78.85" y1="605.5" x2="78.85" y2="824.4"/>
<line class="gr" x1="115.55" y1="605.5" x2="115.55" y2="824.4"/>
<line class="gr" x1="152.25" y1="605.5" x2="152.25" y2="824.4"/>
<line class="gr" x1="188.95" y1="605.5" x2="188.95" y2="824.4"/>
<line class="gr" x1="225.65" y1="605.5" x2="225.65" y2="824.4"/>
<line class="gr" x1="262.35" y1="605.5" x2="262.35" y2="824.4"/>
<line class="gr" x1="299.05" y1="605.5" x2="299.05" y2="824.4"/>
<line class="gr" x1="23.8" y1="815" x2="317.4" y2="815"/>
<line class="gr" x1="23.8" y1="780.12" x2="317.4" y2="780.12"/>
<line class="gr" x1="23.8" y1="745.24" x2="317.4" y2="745.24"/>
<line class="gr" x1="23.8" y1="710.36" x2="317.4" y2="710.36"/>
<line class="gr" x1="23.8" y1="675.48" x2="317.4" y2="675.48"/>
<line class="gr" x1="23.8" y1="640.6" x2="317.4" y2="640.6"/>
<line class="wk" x1="42.15" y1="813.7" x2="42.15" y2="814.3"/>
<line class="wk" x1="42.15" y1="810.6" x2="42.15" y2="811.6"/>
<line class="wk" x1="38.48" y1="814.3" x2="45.82" y2="814.3"/>
<line class="wk" x1="38.48" y1="810.6" x2="45.82" y2="810.6"/>
<rect class="bx" x="34.81" y="811.6" width="14.68" height="2.1" fill="#0000ff"/>
<line class="md" x1="34.81" y1="812.6" x2="49.49" y2="812.6"/>
<line class="wk" x1="78.85" y1="727.4" x2="78.85" y2="758.9"/>
<line class="wk" x1="78.85" y1="696.5" x2="78.85" y2="706.2"/>
<line class="wk" x1="75.18" y1="758.9" x2="82.52" y2="758.9"/>
<line class="wk" x1="75.18" y1="696.5" x2="82.52" y2="696.5"/>
<rect class="bx" x="71.51" y="706.2" width="14.68" height="21.2" fill="#ffa500"/>
<line class="md" x1="71.51" y1="718.6" x2="86.19" y2="718.6"/>
<path class="fl" d="M77.05 665.2h3.6M78.85 663.4v3.6"/>
<line class="wk" x1="115.55" y1="742.3" x2="115.55" y2="780"/>
<line class="wk" x1="115.55" y1="688.5" x2="115.55" y2="709.4"/>
<line class="wk" x1="111.88" y1="780" x2="119.22" y2="780"/>
<line class="wk" x1="111.88" y1="688.5" x2="119.22" y2="688.5"/>
<rect class="bx" x="108.21" y="709.4" width="14.68" height="32.9" fill="#008000"/>
<line class="md" x1="108.21" y1="725.3" x2="122.89" y2="725.3"/>
<path class="fl" d="M113.75 795.4h3.6M115.55 793.6v3.6"/>
<line class="wk" x1="152.25" y1="809.5" x2="152.25" y2="812.8"/>
<line class="wk" x1="152.25" y1="799.6" x2="152.25" y2="804.9"/>
<line class="wk" x1="148.58" y1="812.8" x2="155.92" y2="812.8"/>
<line class="wk" x1="148.58" y1="799.6" x2="155.92" y2="799.6"/>
<rect class="bx" x="144.91" y="804.9" width="14.68" height="4.6" fill="#ff0000"/>
<line class="md" x1="144.91" y1="807.2" x2="159.59" y2="807.2"/>
<line class="wk" x1="188.95" y1="680.1" x2="188.95" y2="713.4"/>
<line class="wk" x1="188.95" y1="628.7" x2="188.95" y2="657.5"/>
<line class="wk" x1="185.28" y1="713.4" x2="192.62" y2="713.4"/>
<line class="wk" x1="185.28" y1="628.7" x2="192.62" y2="628.7"/>
<rect class="bx" x="181.61" y="657.5" width="14.68" height="22.6" fill="#800080"/>
<line class="md" x1="181.61" y1="667.4" x2="196.29" y2="667.4"/>
<path class="fl" d="M187.15 615.3h3.6M188.95 613.5v3.6"/>
<line class="wk" x1="225.65" y1="808.9" x2="225.65" y2="812.4"/>
<line class="wk" x1="225.65" y1="796.7" x2="225.65" y2="802.3"/>
<line class="wk" x1="221.98" y1="812.4" x2="229.32" y2="812.4"/>
<line class="wk" x1="221.98" y1="796.7" x2="229.32" y2="796.7"/>
<rect class="bx" x="218.31" y="802.3" width="14.68" height="6.6" fill="#a52a2a"/>
<line class="md" x1="218.31" y1="807.2" x2="232.99" y2="807.2"/>
<line class="wk" x1="262.35" y1="807.4" x2="262.35" y2="811.3"/>
<line class="wk" x1="262.35" y1="797.3" x2="262.35" y2="803.3"/>
<line class="wk" x1="258.68" y1="811.3" x2="266.02" y2="811.3"/>
<line class="wk" x1="258.68" y1="797.3" x2="266.02" y2="797.3"/>
<rect class="bx" x="255.01" y="803.3" width="14.68" height="4.1" fill="#808080"/>
<line class="md" x1="255.01" y1="805.2" x2="269.69" y2="805.2"/>
<path class="fl" d="M260.55 794.9h3.6M262.35 793.1v3.6"/>
<line class="wk" x1="299.05" y1="697.2" x2="299.05" y2="719.3"/>
<line class="wk" x1="299.05" y1="645.6" x2="299.05" y2="665"/>
<line class="wk" x1="295.38" y1="719.3" x2="302.72" y2="719.3"/>
<line class="wk" x1="295.38" y1="645.6" x2="302.72" y2="645.6"/>
<rect class="bx" x="291.71" y="665" width="14.68" height="32.2" fill="#808000"/>
<line class="md" x1="291.71" y1="685.1" x2="306.39" y2="685.1"/>
<rect class="fr" x="23.8" y="605.5" width="293.6" height="218.9"/>
<line class="tk" x1="42.15" y1="824.4" x2="42.15" y2="827.28"/>
<line class="tk" x1="78.85" y1="824.4" x2="78.85" y2="827.28"/>
<line class="tk" x1="115.55" y1="824.4" x2="115.55" y2="827.28"/>
<line class="tk" x1="152.25" y1="824.4" x2="152.25" y2="827.28"/>
<line class="tk" x1="188.95" y1="824.4" x2="188.95" y2="827.28"/>
<line class="tk" x1="225.65" y1="824.4" x2="225.65" y2="827.28"/>
<line class="tk" x1="262.35" y1="824.4" x2="262.35" y2="827.28"/>
<line class="tk" x1="299.05" y1="824.4" x2="299.05" y2="827.28"/>
<line class="tk" x1="20.92" y1="815" x2="23.8" y2="815"/>
<line class="tk" x1="20.92" y1="780.12" x2="23.8" y2="780.12"/>
<line class="tk" x1="20.92" y1="745.24" x2="23.8" y2="745.24"/>
<line class="tk" x1="20.92" y1="710.36" x2="23.8" y2="710.36"/>
<line class="tk" x1="20.92" y1="675.48" x2="23.8" y2="675.48"/>
<line class="tk" x1="20.92" y1="640.6" x2="23.8" y2="640.6"/>
<text x="17.75" y="818.42" font-size="8.71" text-anchor="end" textLength="5.23" lengthAdjust="spacingAndGlyphs" class="yl">1</text>
<text x="17.75" y="783.54" font-size="8.71" text-anchor="end" textLength="5.23" lengthAdjust="spacingAndGlyphs" class="yl">2</text>
<text x="17.75" y="748.66" font-size="8.71" text-anchor="end" textLength="5.23" lengthAdjust="spacingAndGlyphs" class="yl">3</text>
<text x="17.75" y="713.78" font-size="8.71" text-anchor="end" textLength="5.23" lengthAdjust="spacingAndGlyphs" class="yl">4</text>
<text x="17.75" y="678.9" font-size="8.71" text-anchor="end" textLength="5.23" lengthAdjust="spacingAndGlyphs" class="yl">5</text>
<text x="17.75" y="644.02" font-size="8.71" text-anchor="end" textLength="5.23" lengthAdjust="spacingAndGlyphs" class="yl">6</text>
<text transform="translate(41.18 836.36) rotate(-30)" font-size="8.71" text-anchor="end" textLength="43.54" lengthAdjust="spacingAndGlyphs">DGS-SCSO</text>
<text transform="translate(77.88 836.36) rotate(-30)" font-size="8.71" text-anchor="end" textLength="22.65" lengthAdjust="spacingAndGlyphs">SCSO</text>
<text transform="translate(114.58 836.36) rotate(-30)" font-size="8.71" text-anchor="end" textLength="20.42" lengthAdjust="spacingAndGlyphs">AEFA</text>
<text transform="translate(151.28 836.36) rotate(-30)" font-size="8.71" text-anchor="end" textLength="17.45" lengthAdjust="spacingAndGlyphs">HBA</text>
<text transform="translate(187.98 836.36) rotate(-30)" font-size="8.71" text-anchor="end" textLength="40.28" lengthAdjust="spacingAndGlyphs">HPSOBOA</text>
<text transform="translate(224.68 836.36) rotate(-30)" font-size="8.71" text-anchor="end" textLength="38.93" lengthAdjust="spacingAndGlyphs">QSSALEO</text>
<text transform="translate(261.38 836.36) rotate(-30)" font-size="8.71" text-anchor="end" textLength="36.28" lengthAdjust="spacingAndGlyphs">TBLSBCL</text>
<text transform="translate(298.08 836.36) rotate(-30)" font-size="8.71" text-anchor="end" textLength="16.71" lengthAdjust="spacingAndGlyphs">TSO</text>
<text x="170.5" y="600.9" font-size="10.46" text-anchor="middle" textLength="18.23" lengthAdjust="spacingAndGlyphs" class="ti">F29</text></g>
<g><line class="gr" x1="388.28" y1="615" x2="388.28" y2="834.5"/>
<line class="gr" x1="425.23" y1="615" x2="425.23" y2="834.5"/>
<line class="gr" x1="462.18" y1="615" x2="462.18" y2="834.5"/>
<line class="gr" x1="499.12" y1="615" x2="499.12" y2="834.5"/>
<line class="gr" x1="536.08" y1="615" x2="536.08" y2="834.5"/>
<line class="gr" x1="573.02" y1="615" x2="573.02" y2="834.5"/>
<line class="gr" x1="609.98" y1="615" x2="609.98" y2="834.5"/>
<line class="gr" x1="646.92" y1="615" x2="646.92" y2="834.5"/>
<line class="gr" x1="369.8" y1="834.3" x2="665.4" y2="834.3"/>
<line class="gr" x1="369.8" y1="786.78" x2="665.4" y2="786.78"/>
<line class="gr" x1="369.8" y1="739.26" x2="665.4" y2="739.26"/>
<line class="gr" x1="369.8" y1="691.74" x2="665.4" y2="691.74"/>
<line class="gr" x1="369.8" y1="644.22" x2="665.4" y2="644.22"/>
<line class="wk" x1="388.28" y1="630.7" x2="388.28" y2="631.2"/>
<line class="wk" x1="388.28" y1="627.3" x2="388.28" y2="628.1"/>
<line class="wk" x1="384.58" y1="631.2" x2="391.97" y2="631.2"/>
<line class="wk" x1="384.58" y1="627.3" x2="391.97" y2="627.3"/>
<rect class="bx" x="380.89" y="628.1" width="14.78" height="2.6" fill="#0000ff"/>
<line class="md" x1="380.89" y1="629.3" x2="395.67" y2="629.3"/>
<path class="fl" d="M386.48 632.7h3.6M388.28 630.9v3.6"/>
<line class="wk" x1="425.23" y1="630.7" x2="425.23" y2="632.4"/>
<line class="wk" x1="425.23" y1="627.3" x2="425.23" y2="628.1"/>
<line class="wk" x1="421.53" y1="632.4" x2="428.92" y2="632.4"/>
<line class="wk" x1="421.53" y1="627.3" x2="428.92" y2="627.3"/>
<rect class="bx" x="417.84" y="628.1" width="14.78" height="2.6" fill="#ffa500"/>
<line class="md" x1="417.84" y1="629.5" x2="432.62" y2="629.5"/>
<line class="wk" x1="462.18" y1="634.9" x2="462.18" y2="634.9"/>
<line class="wk" x1="462.18" y1="634.9" x2="462.18" y2="634.9"/>
<line class="wk" x1="458.48" y1="634.9" x2="465.87" y2="634.9"/>
<line class="wk" x1="458.48" y1="634.9" x2="465.87" y2="634.9"/>
<rect class="bx" x="454.79" y="634.9" width="14.78" height="0.01" fill="#008000"/>
<line class="md" x1="454.79" y1="634.9" x2="469.56" y2="634.9"/>
<path class="fl" d="M460.38 635.6h3.6M462.18 633.8v3.6"/>
<path class="fl" d="M460.38 825h3.6M462.18 823.2v3.6"/>
<line class="wk" x1="499.12" y1="631.7" x2="499.12" y2="633.4"/>
<line class="wk" x1="499.12" y1="628.3" x2="499.12" y2="629.1"/>
<line class="wk" x1="495.43" y1="633.4" x2="502.82" y2="633.4"/>
<line class="wk" x1="495.43" y1="628.3" x2="502.82" y2="628.3"/>
<rect class="bx" x="491.74" y="629.1" width="14.78" height="2.6" fill="#ff0000"/>
<line class="md" x1="491.74" y1="630.4" x2="506.51" y2="630.4"/>
<line class="wk" x1="536.08" y1="628" x2="536.08" y2="628.5"/>
<line class="wk" x1="536.08" y1="624.4" x2="536.08" y2="625.8"/>
<line class="wk" x1="532.38" y1="628.5" x2="539.77" y2="628.5"/>
<line class="wk" x1="532.38" y1="624.4" x2="539.77" y2="624.4"/>
<rect class="bx" x="528.69" y="625.8" width="14.78" height="2.2" fill="#800080"/>
<line class="md" x1="528.69" y1="627" x2="543.47" y2="627"/>
<line class="wk" x1="573.02" y1="635.6" x2="573.02" y2="635.8"/>
<line class="wk" x1="573.02" y1="632.5" x2="573.02" y2="633.7"/>
<line class="wk" x1="569.33" y1="635.8" x2="576.72" y2="635.8"/>
<line class="wk" x1="569.33" y1="632.5" x2="576.72" y2="632.5"/>
<rect class="bx" x="565.63" y="633.7" width="14.78" height="1.9" fill="#a52a2a"/>
<line class="md" x1="565.63" y1="634.6" x2="580.41" y2="634.6"/>
<path class="fl" d="M571.23 631.7h3.6M573.02 629.9v3.6"/>
<path class="fl" d="M571.23 825h3.6M573.02 823.2v3.6"/>
<line class="wk" x1="609.98" y1="635.3" x2="609.98" y2="635.3"/>
<line class="wk" x1="609.98" y1="635.3" x2="609.98" y2="635.3"/>
<line class="wk" x1="606.28" y1="635.3" x2="613.67" y2="635.3"/>
<line class="wk" x1="606.28" y1="635.3" x2="613.67" y2="635.3"/>
<rect class="bx" x="602.59" y="635.3" width="14.78" height="0.01" fill="#808080"/>
<line class="md" x1="602.59" y1="635.3" x2="617.37" y2="635.3"/>
<path class="fl" d="M608.18 632.2h3.6M609.98 630.4v3.6"/>
<path class="fl" d="M608.18 635.3h3.6M609.98 633.5v3.6"/>
<path class="fl" d="M608.18 809.4h3.6M609.98 807.6v3.6"/>
<path class="fl" d="M608.18 825h3.6M609.98 823.2v3.6"/>
<line class="wk" x1="646.92" y1="628.8" x2="646.92" y2="629"/>
<line class="wk" x1="646.92" y1="626.9" x2="646.92" y2="627.5"/>
<line class="wk" x1="643.23" y1="629" x2="650.62" y2="629"/>
<line class="wk" x1="643.23" y1="626.9" x2="650.62" y2="626.9"/>
<rect class="bx" x="639.53" y="627.5" width="14.78" height="1.3" fill="#808000"/>
<line class="md" x1="639.53" y1="628.5" x2="654.31" y2="628.5"/>
<path class="fl" d="M645.12 627.2h3.6M646.92 625.4v3.6"/>
<rect class="fr" x="369.8" y="615" width="295.6" height="219.5"/>
<line class="tk" x1="388.28" y1="834.5" x2="388.28" y2="837.4"/>
<line class="tk" x1="425.23" y1="834.5" x2="425.23" y2="837.4"/>
<line class="tk" x1="462.18" y1="834.5" x2="462.18" y2="837.4"/>
<line class="tk" x1="499.12" y1="834.5" x2="499.12" y2="837.4"/>
<line class="tk" x1="536.08" y1="834.5" x2="536.08" y2="837.4"/>
<line class="tk" x1="573.02" y1="834.5" x2="573.02" y2="837.4"/>
<line class="tk" x1="609.98" y1="834.5" x2="609.98" y2="837.4"/>
<line class="tk" x1="646.92" y1="834.5" x2="646.92" y2="837.4"/>
<line class="tk" x1="366.9" y1="834.3" x2="369.8" y2="834.3"/>
<line class="tk" x1="366.9" y1="786.78" x2="369.8" y2="786.78"/>
<line class="tk" x1="366.9" y1="739.26" x2="369.8" y2="739.26"/>
<line class="tk" x1="366.9" y1="691.74" x2="369.8" y2="691.74"/>
<line class="tk" x1="366.9" y1="644.22" x2="369.8" y2="644.22"/>
<text x="363.71" y="837.75" font-size="8.77" text-anchor="end" textLength="5.27" lengthAdjust="spacingAndGlyphs" class="yl">0</text>
<text x="363.71" y="790.23" font-size="8.77" text-anchor="end" textLength="5.27" lengthAdjust="spacingAndGlyphs" class="yl">5</text>
<text x="363.71" y="742.71" font-size="8.77" text-anchor="end" textLength="10.53" lengthAdjust="spacingAndGlyphs" class="yl">10</text>
<text x="363.71" y="695.19" font-size="8.77" text-anchor="end" textLength="10.53" lengthAdjust="spacingAndGlyphs" class="yl">15</text>
<text x="363.71" y="647.67" font-size="8.77" text-anchor="end" textLength="10.53" lengthAdjust="spacingAndGlyphs" class="yl">20</text>
<text transform="translate(387.3 846.54) rotate(-30)" font-size="8.77" text-anchor="end" textLength="43.83" lengthAdjust="spacingAndGlyphs">DGS-SCSO</text>
<text transform="translate(424.25 846.54) rotate(-30)" font-size="8.77" text-anchor="end" textLength="22.8" lengthAdjust="spacingAndGlyphs">SCSO</text>
<text transform="translate(461.2 846.54) rotate(-30)" font-size="8.77" text-anchor="end" textLength="20.56" lengthAdjust="spacingAndGlyphs">AEFA</text>
<text transform="translate(498.15 846.54) rotate(-30)" font-size="8.77" text-anchor="end" textLength="17.57" lengthAdjust="spacingAndGlyphs">HBA</text>
<text transform="translate(535.1 846.54) rotate(-30)" font-size="8.77" text-anchor="end" textLength="40.55" lengthAdjust="spacingAndGlyphs">HPSOBOA</text>
<text transform="translate(572.05 846.54) rotate(-30)" font-size="8.77" text-anchor="end" textLength="39.2" lengthAdjust="spacingAndGlyphs">QSSALEO</text>
<text transform="translate(609 846.54) rotate(-30)" font-size="8.77" text-anchor="end" textLength="36.52" lengthAdjust="spacingAndGlyphs">TBLSBCL</text>
<text transform="translate(645.95 846.54) rotate(-30)" font-size="8.77" text-anchor="end" textLength="16.83" lengthAdjust="spacingAndGlyphs">TSO</text>
<text x="517.5" y="610.3" font-size="10.53" text-anchor="middle" textLength="18.35" lengthAdjust="spacingAndGlyphs" class="ti">F30</text></g>
</svg>
</body></html>
